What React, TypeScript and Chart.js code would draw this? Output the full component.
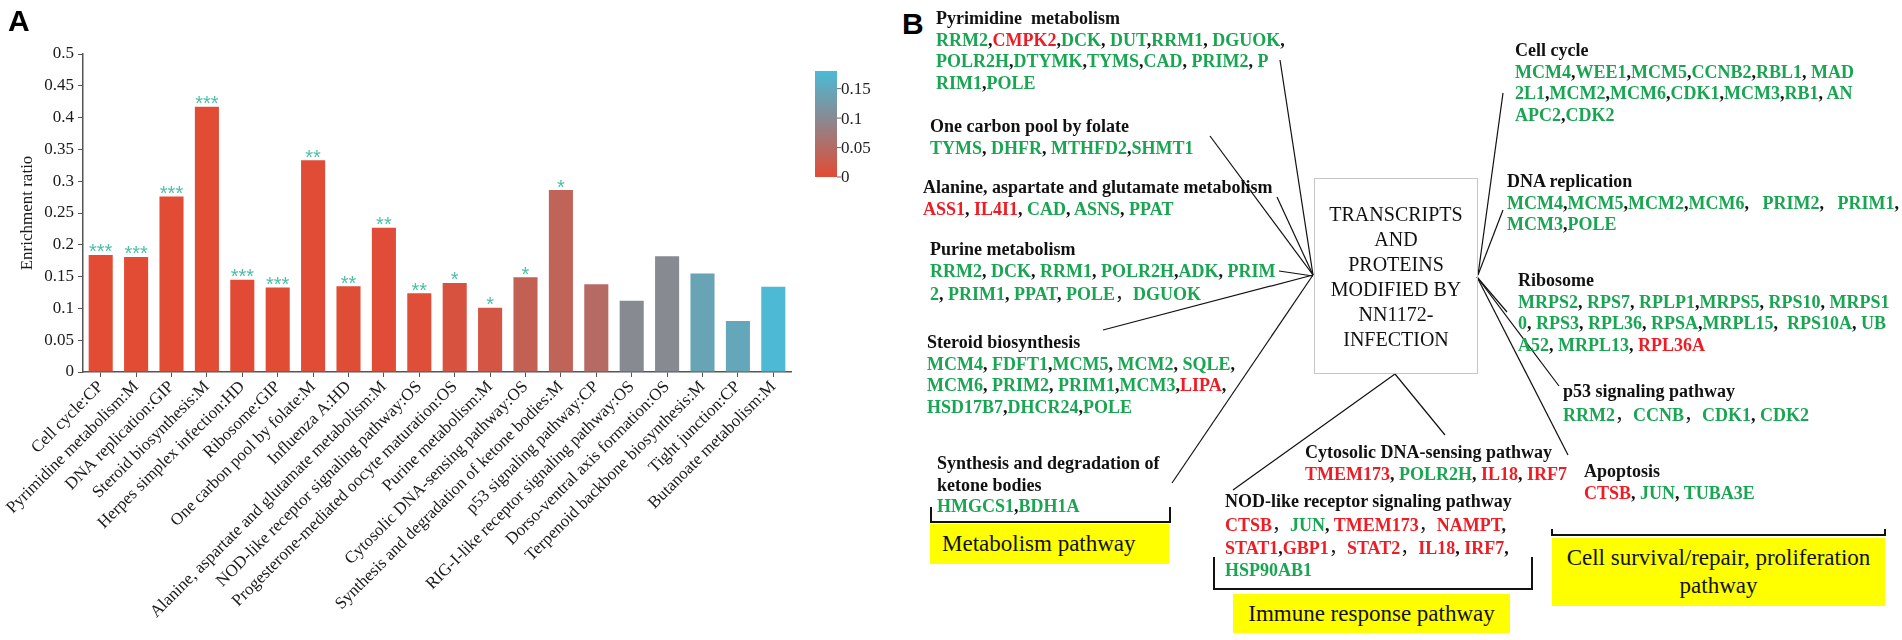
import React, { useEffect, useRef } from 'react';
import { Chart, registerables } from 'chart.js';

Chart.register(...registerables);

// ---------------- Panel A data ----------------
const categories = [
  'Cell cycle:CP',
  'Pyrimidine metabolism:M',
  'DNA replication:GIP',
  'Steroid biosynthesis:M',
  'Herpes simplex infection:HD',
  'Ribosome:GIP',
  'One carbon pool by folate:M',
  'Influenza A:HD',
  'Alanine, aspartate and glutamate metabolism:M',
  'NOD-like receptor signaling pathway:OS',
  'Progesterone-mediated oocyte maturation:OS',
  'Purine metabolism:M',
  'Cytosolic DNA-sensing pathway:OS',
  'Synthesis and degradation of ketone bodies:M',
  'p53 signaling pathway:CP',
  'RIG-I-like receptor signaling pathway:OS',
  'Dorso-ventral axis formation:OS',
  'Terpenoid backbone biosynthesis:M',
  'Tight junction:CP',
  'Butanoate metabolism:M',
];
const enrichment = [
  0.184, 0.181, 0.276, 0.417, 0.145, 0.133, 0.333, 0.135, 0.227, 0.124,
  0.14, 0.101, 0.149, 0.286, 0.138, 0.112, 0.182, 0.155, 0.08, 0.134,
];
const pValues = [
  0.0002, 0.0003, 0.0004, 0.0001, 0.0006, 0.0008, 0.002, 0.003, 0.002, 0.004,
  0.012, 0.016, 0.034, 0.038, 0.05, 0.1, 0.1, 0.142, 0.148, 0.178,
];
const significance = [
  '***', '***', '***', '***', '***', '***', '**', '**', '**', '**',
  '*', '*', '*', '*', '', '', '', '', '', '',
];
const yTickValues = [0, 0.05, 0.1, 0.15, 0.2, 0.25, 0.3, 0.35, 0.4, 0.45, 0.5];
const colorbarTicks = [0, 0.05, 0.1, 0.15];
const colorbarMax = 0.18;

// ---------------- Panel B content ----------------
// [NAME] = red (up-regulated); other gene names green
const pathwayTitles = [
  ['Pyrimidine  metabolism'],
  ['One carbon pool by folate'],
  ['Alanine, aspartate and glutamate metabolism'],
  ['Purine metabolism'],
  ['Steroid biosynthesis'],
  ['Synthesis and degradation of', 'ketone bodies'],
  ['Cytosolic DNA-sensing pathway'],
  ['NOD-like receptor signaling pathway'],
  ['Cell cycle'],
  ['DNA replication'],
  ['Ribosome'],
  ['p53 signaling pathway'],
  ['Apoptosis'],
];
const pathwayGenes = [
  ['RRM2,[CMPK2],DCK, DUT,RRM1, DGUOK,', 'POLR2H,DTYMK,TYMS,CAD, PRIM2, P', 'RIM1,POLE'],
  ['TYMS, DHFR, MTHFD2,SHMT1'],
  ['[ASS1], [IL4I1], CAD, ASNS, PPAT'],
  ['RRM2, DCK, RRM1, POLR2H,ADK, PRIM', '2, PRIM1, PPAT, POLE，DGUOK'],
  ['MCM4, FDFT1,MCM5, MCM2, SQLE,', 'MCM6, PRIM2, PRIM1,MCM3,[LIPA],', 'HSD17B7,DHCR24,POLE'],
  ['HMGCS1,BDH1A'],
  ['[TMEM173], POLR2H, [IL18], [IRF7]'],
  ['[CTSB]，JUN, [TMEM173]，[NAMPT],', '[STAT1],[GBP1]，[STAT2]，[IL18], [IRF7],', 'HSP90AB1'],
  ['MCM4,WEE1,MCM5,CCNB2,RBL1, MAD', '2L1,MCM2,MCM6,CDK1,MCM3,RB1, AN', 'APC2,CDK2'],
  ['MCM4,MCM5,MCM2,MCM6,   PRIM2,   PRIM1,', 'MCM3,POLE'],
  ['MRPS2, RPS7, RPLP1,MRPS5, RPS10, MRPS1', '0, RPS3, RPL36, RPSA,MRPL15,  RPS10A, UB', 'A52, MRPL13, [RPL36A]'],
  ['RRM2，CCNB，CDK1, CDK2'],
  ['[CTSB], JUN, TUBA3E'],
];
const centerLines = ['TRANSCRIPTS', 'AND', 'PROTEINS', 'MODIFIED BY', 'NN1172-', 'INFECTION'];
const groupLabels = ['Metabolism pathway', 'Immune response pathway', 'Cell survival/repair, proliferation pathway'];

// ---------------- layout (positions only) ----------------
const blockPos = [
  [936, 8], [930, 116], [923, 177], [930, 239], [927, 332], [937, 453],
  [1305, 442], [1225, 491], [1515, 40], [1507, 171], [1518, 270], [1563, 381], [1584, 461],
];
const connectors = [
  [1280, 60, 1313, 275], [1210, 136, 1313, 275], [1277, 197, 1313, 275], [1279, 271, 1313, 276],
  [1103, 330, 1313, 275], [1172, 483, 1313, 275],
  [1395, 374, 1445, 435], [1395, 374, 1233, 490],
  [1478, 275, 1503, 93], [1478, 275, 1503, 210], [1477, 277, 1507, 312],
  [1477, 277, 1559, 386], [1477, 277, 1568, 455],
];
const brackets = [
  '931,507 931,522 1170,522 1170,507',
  '1214,557 1214,589 1532,589 1532,557',
  '1552,529 1552,535 1885,535 1885,529',
];

const SERIF = "'Liberation Serif', 'Times New Roman', serif";
const SANS = "'Liberation Sans', Arial, sans-serif";
const CJK = "'Noto Sans CJK SC', 'Liberation Serif', serif";
const GREEN = '#19a552';
const RED = '#ee1c24';
const STAR = '#4dbfa8';

const C_RED = [226, 75, 52];
const C_GRAY = [136, 138, 146];
const C_BLUE = [76, 186, 214];
function lerp(a: number[], b: number[], t: number) {
  const k = Math.max(0, Math.min(1, t));
  return a.map((v, i) => Math.round(v + (b[i] - v) * k));
}
function colorFor(p: number) {
  const c = p <= 0.1 ? lerp(C_RED, C_GRAY, p / 0.1) : lerp(C_GRAY, C_BLUE, (p - 0.1) / (colorbarMax - 0.1));
  return `rgb(${c[0]},${c[1]},${c[2]})`;
}

const starsPlugin = {
  id: 'stars',
  afterDatasetsDraw(chart: any) {
    const meta = chart.getDatasetMeta(0);
    const ctx = chart.ctx;
    ctx.save();
    ctx.font = `20px ${SANS}`;
    ctx.fillStyle = STAR;
    ctx.textAlign = 'center';
    ctx.textBaseline = 'alphabetic';
    meta.data.forEach((bar: any, i: number) => {
      const s = significance[i];
      if (s) ctx.fillText(s, bar.x, bar.y + 3.5);
    });
    ctx.restore();
  },
};

const colorbarPlugin = {
  id: 'colorbar',
  afterDraw(chart: any, _args: any, opts: any) {
    const { x, width, bottom, pxPerUnit } = opts;
    const ctx = chart.ctx;
    const top = bottom - colorbarMax * pxPerUnit;
    const grad = ctx.createLinearGradient(0, bottom, 0, top);
    for (let k = 0; k <= 36; k++) {
      grad.addColorStop(k / 36, colorFor((colorbarMax * k) / 36));
    }
    ctx.save();
    ctx.fillStyle = grad;
    ctx.fillRect(x, top, width, bottom - top);
    ctx.strokeStyle = '#666';
    ctx.lineWidth = 1;
    ctx.fillStyle = '#222';
    ctx.font = `17px ${SERIF}`;
    ctx.textAlign = 'left';
    ctx.textBaseline = 'middle';
    colorbarTicks.forEach((v) => {
      const y = bottom - v * pxPerUnit;
      ctx.beginPath();
      ctx.moveTo(x + width, y);
      ctx.lineTo(x + width + 4, y);
      ctx.stroke();
      ctx.fillText(String(v), x + width + 4, y + 1);
    });
    ctx.restore();
  },
};

function GeneLine({ text }: { text: string }) {
  const parts = text.split(/(\[[^\]]+\]|[A-Za-z0-9]+|，)/).filter((p) => p !== '');
  return (
    <div>
      {parts.map((p, i) => {
        if (p.startsWith('[')) return <span key={i} style={{ color: RED }}>{p.slice(1, -1)}</span>;
        if (/^[A-Za-z0-9]+$/.test(p)) return <span key={i} style={{ color: GREEN }}>{p}</span>;
        if (p === '，') return <span key={i} style={{ color: '#111', fontFamily: CJK, fontWeight: 'normal' }}>{p}</span>;
        return <span key={i} style={{ color: '#111' }}>{p}</span>;
      })}
    </div>
  );
}

export default function App() {
  const canvasRef = useRef<HTMLCanvasElement | null>(null);

  useEffect(() => {
    if (!canvasRef.current) return;
    const chart = new Chart(canvasRef.current, {
      type: 'bar',
      data: {
        labels: categories,
        datasets: [
          {
            data: enrichment,
            backgroundColor: pValues.map(colorFor),
            borderWidth: 0,
            barPercentage: 0.68,
            categoryPercentage: 1,
          },
        ],
      },
      options: {
        responsive: false,
        animation: false,
        layout: { padding: { top: 54, right: 89, left: 0, bottom: 0 } },
        plugins: {
          legend: { display: false },
          tooltip: { enabled: false },
          colorbar: { x: 815, width: 22, bottom: 177, pxPerUnit: 589 },
        } as any,
        scales: {
          x: {
            grid: { display: true, drawOnChartArea: false, drawTicks: true, tickLength: 5, color: '#555', offset: false },
            border: { display: true, color: '#555', width: 1.5 },
            ticks: {
              autoSkip: false,
              maxRotation: 45,
              minRotation: 45,
              padding: 0,
              color: '#1a1a1a',
              font: { family: SERIF, size: 17 },
            },
            afterFit: (scale: any) => {
              scale.height = 268;
            },
          },
          y: {
            min: 0,
            max: 0.5,
            afterBuildTicks: (scale: any) => {
              scale.ticks = yTickValues.map((v) => ({ value: v }));
            },
            grid: { display: true, drawOnChartArea: false, drawTicks: true, tickLength: 5, color: '#555' },
            border: { display: true, color: '#555', width: 1.5 },
            ticks: {
              padding: 4,
              color: '#1a1a1a',
              font: { family: SERIF, size: 17 },
              callback: (v: any) => String(+Number(v).toFixed(2)),
            },
            title: {
              display: true,
              text: 'Enrichment ratio',
              color: '#1a1a1a',
              font: { family: SERIF, size: 17 },
              padding: { top: 17, bottom: 4 },
            },
            afterFit: (scale: any) => {
              scale.width = 83;
            },
          },
        },
      },
      plugins: [starsPlugin, colorbarPlugin],
    });
    return () => chart.destroy();
  }, []);

  const headStyle: React.CSSProperties = {
    fontFamily: SERIF,
    fontWeight: 'bold',
    fontSize: 18,
    lineHeight: '21.5px',
    whiteSpace: 'pre',
  };

  return (
    <div style={{ position: 'absolute', left: 0, top: 0, width: 1902, height: 640, background: '#fff', overflow: 'hidden' }}>
      <canvas ref={canvasRef} width={880} height={640} style={{ position: 'absolute', left: 0, top: 0, width: 880, height: 640 }} />
      <div style={{ position: 'absolute', left: 8, top: 6, fontFamily: SANS, fontWeight: 'bold', fontSize: 30, lineHeight: '30px', color: '#000' }}>A</div>
      <div style={{ position: 'absolute', left: 902, top: 9, fontFamily: SANS, fontWeight: 'bold', fontSize: 30, lineHeight: '30px', color: '#000' }}>B</div>

      <svg width={1902} height={640} style={{ position: 'absolute', left: 0, top: 0 }}>
        {connectors.map((c, i) => (
          <line key={i} x1={c[0]} y1={c[1]} x2={c[2]} y2={c[3]} stroke="#111" strokeWidth={1.2} />
        ))}
        {brackets.map((b, i) => (
          <polyline key={i} points={b} fill="none" stroke="#111" strokeWidth={2} />
        ))}
      </svg>

      {pathwayTitles.map((title, i) => (
        <div key={i} style={{ position: 'absolute', left: blockPos[i][0], top: blockPos[i][1], ...headStyle }}>
          {title.map((t, j) => (
            <div key={'t' + j} style={{ color: '#111' }}>{t}</div>
          ))}
          {pathwayGenes[i].map((g, j) => (
            <GeneLine key={'g' + j} text={g} />
          ))}
        </div>
      ))}

      <div
        style={{
          position: 'absolute', left: 1314, top: 178, width: 164, height: 196, boxSizing: 'border-box',
          border: '1.5px solid #c4c4c4', paddingTop: 23, textAlign: 'center',
          fontFamily: SERIF, fontSize: 20, lineHeight: '25px', color: '#111',
        }}
      >
        {centerLines.map((l, i) => (
          <div key={i}>{l}</div>
        ))}
      </div>

      <div style={{ position: 'absolute', left: 930, top: 524, width: 239, height: 40, background: '#ffff00', fontFamily: SERIF, fontSize: 23, lineHeight: '40px', paddingLeft: 12, boxSizing: 'border-box', color: '#111' }}>
        {groupLabels[0]}
      </div>
      <div style={{ position: 'absolute', left: 1233, top: 594, width: 277, height: 39, background: '#ffff00', fontFamily: SERIF, fontSize: 23, lineHeight: '39px', textAlign: 'center', color: '#111' }}>
        {groupLabels[1]}
      </div>
      <div style={{ position: 'absolute', left: 1552, top: 538, width: 333, height: 68, background: '#ffff00', fontFamily: SERIF, fontSize: 23, lineHeight: '28px', paddingTop: 6, boxSizing: 'border-box', textAlign: 'center', color: '#111' }}>
        {groupLabels[2]}
      </div>
    </div>
  );
}
